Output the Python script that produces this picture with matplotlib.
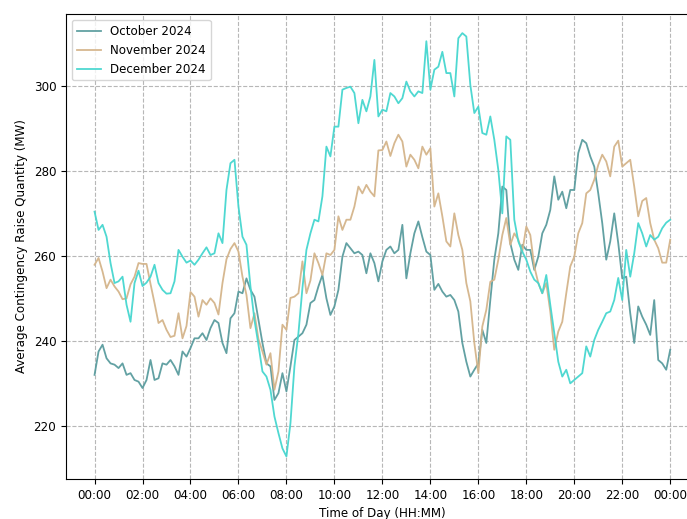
import matplotlib
matplotlib.use("Agg")
import matplotlib.pyplot as plt
import numpy as np

# Time of day in hours (10-minute steps, 00:00 .. 24:00)
hours = np.arange(145) / 6.0
tick_hours = list(range(0, 25, 2))
tick_labels = ["00:00", "02:00", "04:00", "06:00", "08:00", "10:00", "12:00",
               "14:00", "16:00", "18:00", "20:00", "22:00", "00:00"]

october = [
    232.0, 237.5, 239.1, 235.9, 234.7, 234.4, 233.6, 234.7, 232.0, 232.4,
    230.8, 230.4, 228.9, 230.8, 235.5, 230.8, 231.2, 234.7, 234.4, 235.5,
    234.0, 232.0, 237.5, 236.3, 238.3, 240.6, 240.6, 241.8, 240.2, 243.0,
    244.9, 244.2, 239.5, 237.1, 245.3, 246.5, 251.6, 251.2, 254.7, 252.0,
    250.4, 244.9, 239.5, 234.7, 234.0, 226.1, 227.7, 232.4, 228.1, 234.0,
    240.2, 241.0, 241.8, 243.8, 248.9, 249.6, 252.8, 255.5, 250.0, 246.1,
    248.1, 252.0, 259.8, 263.0, 261.8, 260.6, 261.0, 260.2, 255.9, 260.6,
    258.3, 254.0, 258.7, 261.4, 262.2, 260.6, 261.4, 267.3, 254.7, 260.6,
    265.3, 268.1, 264.4, 261.0, 260.2, 252.0, 253.4, 251.6, 250.4, 250.8,
    249.6, 246.9, 239.5, 235.1, 231.6, 233.2, 234.7, 242.6, 239.5, 249.6,
    259.1, 265.3, 276.3, 275.5, 263.0, 259.1, 256.7, 262.6, 261.4, 261.4,
    256.7, 259.8, 265.3, 267.3, 270.8, 278.7, 273.2, 275.1, 271.2, 275.5,
    275.5, 284.2, 287.3, 286.5, 283.4, 281.0, 274.7, 267.7, 259.1, 263.4,
    270.0, 263.0, 254.7, 255.1, 246.5, 239.5, 248.1, 245.7, 243.8, 241.4,
    249.6, 235.5, 234.7, 233.2, 237.9,
]

november = [
    257.9, 259.5, 256.3, 252.4, 254.4, 252.8, 251.6, 249.8, 250.0, 253.3,
    255.1, 258.3, 258.1, 258.1, 253.4, 248.9, 244.2, 244.9, 242.6, 240.9,
    241.2, 246.5, 240.6, 243.5, 251.5, 250.4, 245.7, 249.6, 248.5, 250.0,
    248.9, 246.2, 253.6, 259.2, 261.6, 263.0, 261.0, 255.1, 250.8, 243.0,
    246.5, 240.4, 237.5, 234.4, 237.1, 228.5, 232.8, 243.8, 242.6, 250.1,
    250.4, 251.2, 258.7, 251.2, 254.2, 260.6, 258.3, 255.5, 260.6, 260.2,
    261.4, 269.3, 266.1, 268.5, 268.5, 271.6, 276.3, 274.7, 276.7, 275.1,
    274.0, 284.8, 284.9, 286.9, 283.5, 286.5, 288.5, 286.9, 281.0, 283.8,
    282.6, 280.6, 285.7, 283.8, 285.3, 271.6, 274.7, 269.3, 263.4, 262.2,
    270.0, 264.9, 261.4, 253.6, 249.3, 239.5, 232.4, 243.4, 247.3, 253.9,
    254.4, 259.1, 264.9, 268.9, 262.6, 265.3, 263.8, 261.0, 266.9, 264.9,
    257.5, 253.6, 251.2, 253.6, 246.9, 237.9, 242.2, 244.5, 251.2, 257.5,
    259.8, 265.3, 267.7, 274.7, 275.5, 277.9, 281.4, 283.8, 282.2, 278.7,
    285.7, 287.1, 281.0, 281.8, 282.6, 276.3, 269.3, 272.9, 273.6, 267.7,
    263.8, 261.8, 258.4, 258.4, 263.8,
]

december = [
    270.4, 266.1, 267.3, 264.5, 258.3, 253.6, 254.0, 255.1, 248.5, 244.5,
    253.6, 256.5, 252.9, 253.7, 255.1, 257.9, 253.6, 252.0, 251.1, 251.2,
    254.0, 261.4, 259.8, 258.4, 258.9, 257.9, 259.1, 260.6, 262.0, 260.2,
    260.6, 265.3, 263.0, 275.5, 281.8, 282.6, 271.6, 264.5, 262.6, 252.8,
    244.9, 239.1, 232.8, 231.6, 228.5, 222.2, 218.3, 214.7, 212.8, 220.6,
    234.0, 241.8, 252.4, 261.4, 265.3, 268.5, 268.1, 274.0, 285.7, 283.4,
    290.4, 290.4, 299.1, 299.5, 299.8, 298.3, 291.2, 296.7, 294.0, 297.5,
    306.1, 292.8, 294.4, 294.0, 298.3, 297.5, 295.9, 297.1, 301.0, 298.7,
    297.5, 298.7, 298.3, 310.5, 299.1, 303.8, 304.5, 308.0, 303.0, 303.0,
    297.5, 311.2, 312.4, 311.6, 300.2, 293.6, 295.1, 288.9, 288.5, 292.8,
    287.3, 280.2, 270.0, 288.1, 287.3, 268.5, 263.4, 261.0, 259.1, 256.3,
    254.4, 253.6, 251.2, 255.5, 248.5, 241.8, 235.1, 231.6, 233.2, 230.0,
    230.8, 231.6, 232.4, 238.7, 236.3, 240.2, 242.6, 244.5, 246.5, 246.9,
    249.6, 254.8, 249.6, 261.4, 255.1, 260.6, 267.7, 265.3, 262.2, 264.9,
    263.8, 264.5, 266.5, 267.8, 268.5,
]

series_names = ["October 2024", "November 2024", "December 2024"]
colors = ["#5a9c9e", "#d4b48a", "#45d6cf"]

fs = 8.6
fig = plt.figure(figsize=(6.87, 5.19), dpi=100)
ax = fig.add_axes([66 / 687, 1 - 479 / 519, (699 - 66) / 687, (479 - 14) / 519])

for name, vals, c in zip(series_names, [october, november, december], colors):
    ax.plot(hours, vals, color=c, lw=1.3, alpha=0.95, label=name)

ax.set_xlim(-1.19, 25.2)
ax.set_ylim(207.5, 316.9)
ax.set_xticks(tick_hours)
ax.set_xticklabels(tick_labels, fontsize=fs)
ax.set_yticks([220, 240, 260, 280, 300])
ax.tick_params(axis="y", labelsize=fs)
ax.set_xlabel("Time of Day (HH:MM)", fontsize=fs)
ax.set_ylabel("Average Contingency Raise Quantity (MW)", fontsize=fs)
ax.grid(True, linestyle="--", color="#b0b0b0", lw=0.8, alpha=0.9)
ax.legend(loc="upper left", fontsize=fs)

fig.savefig("out.png", dpi=100)
